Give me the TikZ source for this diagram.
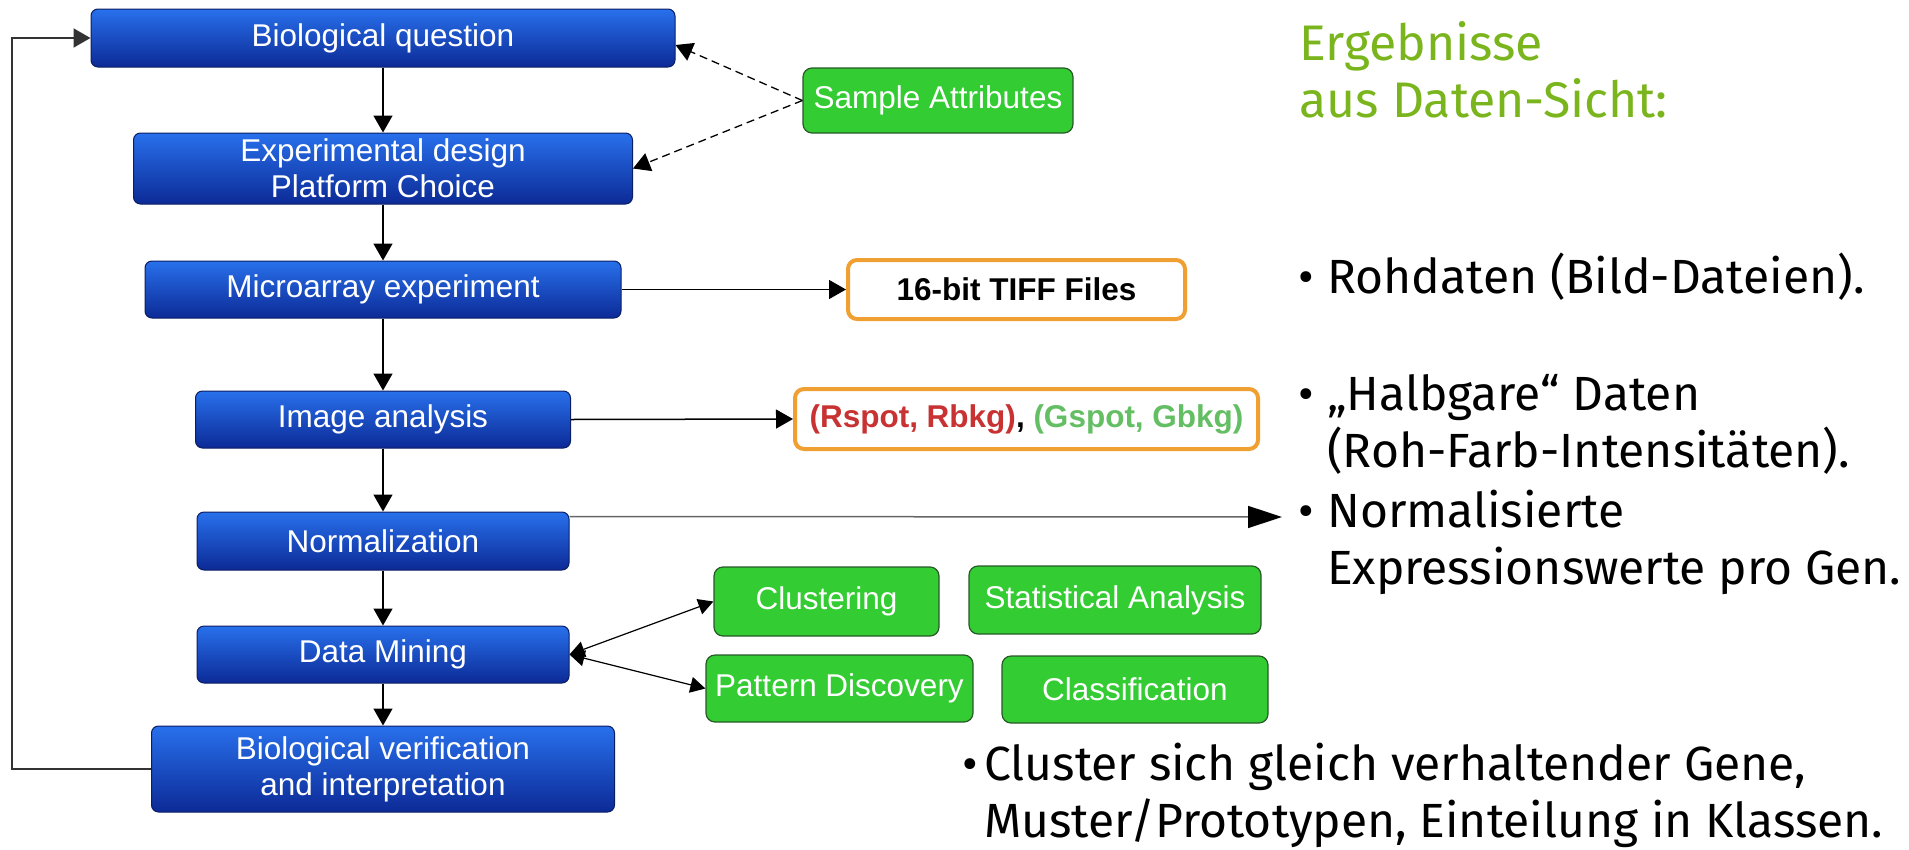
\documentclass[tikz,border=0pt]{standalone}
\usepackage{fontspec}
\setmainfont{Liberation Sans}
\newfontfamily\notesfont{Fira Sans}
\newfontfamily\headfont{Fira Sans}
\usetikzlibrary{arrows.meta}
\definecolor{blueT}{RGB}{40,112,236}
\definecolor{blueB}{RGB}{12,42,150}
\definecolor{blueedge}{RGB}{10,30,100}
\definecolor{attrgreen}{RGB}{51,204,51}
\definecolor{attredge}{RGB}{40,90,40}
\definecolor{tifforange}{RGB}{240,160,50}
\definecolor{spotred}{RGB}{200,50,50}
\definecolor{spotgreen}{RGB}{100,190,100}
\definecolor{headgreen}{RGB}{122,181,29}
\newcommand{\boxfont}{\fontsize{31.5}{36}\selectfont}
\newcommand{\notesize}{\fontsize{48}{57}\selectfont}

\begin{document}
\begin{tikzpicture}[x=1pt, y=-1pt,
  stage/.style={draw=blueedge, line width=1pt, rounded corners=7pt, top color=blueT, bottom color=blueB, text=white, font=\boxfont, align=center, inner sep=0pt},
  attr/.style={draw=attredge, line width=1.2pt, rounded corners=9pt, fill=attrgreen, text=white, font=\boxfont, inner sep=0pt},
  outbox/.style={draw=tifforange, line width=4pt, rounded corners=9pt, fill=white, font=\boxfont\bfseries, inner sep=0pt},
  flow/.style={-{Triangle[length=17pt,width=19pt]}, line width=1.5pt},
  hint/.style={flow, line width=1.3pt, dash pattern=on 8pt off 5pt},
  both/.style={{Triangle[length=15pt,width=16pt]}-{Triangle[length=15pt,width=16pt]}, line width=1.2pt},
  note/.style={anchor=base west, font=\notesfont\notesize, inner sep=0pt}]

  \useasboundingbox (0,0) rectangle (1909,849);

  % pipeline
  \node[stage, minimum width=584pt, minimum height=58pt] (bio) at (383,38) {Biological question};
  \node[stage, minimum width=499pt, minimum height=71pt] (design) at (383,168.5) {Experimental design\\Platform Choice};
  \node[stage, minimum width=476pt, minimum height=57pt] (micro) at (383,289.5) {Microarray experiment};
  \node[stage, minimum width=375pt, minimum height=57pt] (image) at (383,419.5) {Image analysis};
  \node[stage, minimum width=372pt, minimum height=58pt] (norm) at (383,541) {Normalization};
  \node[stage, minimum width=372pt, minimum height=57pt] (mining) at (383,654.5) {Data Mining};
  \node[stage, minimum width=463pt, minimum height=86pt] (verif) at (383,769) {Biological verification\\and interpretation};

  \foreach \a/\b in {bio/design, design/micro, micro/image, image/norm, norm/mining, mining/verif}
    \draw[flow] (\a.south) -- (\b.north);

  % back to the question
  \coordinate (loop) at (12,769);
  \draw[flow, line width=2pt, draw=black!80] (verif.west) -- (loop) |- (bio.west);

  % side boxes
  \node[attr, minimum width=270pt, minimum height=65pt] (attrib) at (938,100.5) {Sample Attributes};
  \draw[hint] (attrib.west) -- ([yshift=-7pt]bio.east);
  \draw[hint] (attrib.west) -- (design.east);

  \node[outbox, minimum width=337pt, minimum height=59pt] (tiff) at (1016.5,289.5) {16-bit TIFF Files};
  \node[outbox, minimum width=463pt, minimum height=60pt] (rgb) at (1026.5,419) {{\color{spotred}(Rspot, Rbkg)}, {\color{spotgreen}(Gspot, Gbkg)}};
  \draw[flow] (micro.east) -- (tiff.west);
  \draw[flow] (image.east) -- (rgb.west);

  \coordinate (normtip) at (1282,517);
  \draw[-{Triangle[length=34pt,width=22pt,color=black]}, line width=1.5pt, draw=black!60] ([yshift=-5pt]norm.north east) -- (normtip);

  \node[attr, minimum width=225pt, minimum height=69pt] (clust) at (826.5,601.5) {Clustering};
  \node[attr, minimum width=292pt, minimum height=68pt] (stat) at (1115,600) {Statistical Analysis};
  \node[attr, minimum width=267pt, minimum height=67pt] (patt) at (839.5,688.5) {Pattern Discovery};
  \node[attr, minimum width=266pt, minimum height=67pt] (classif) at (1135,689.5) {Classification};
  \draw[both] (mining.east) -- (clust.west);
  \draw[both] (mining.east) -- (patt.west);

  % results, data view
  \node[note, font=\headfont\fontsize{50}{57}\selectfont, text=headgreen] (head) at (1299,60)
    {\begin{tabular}[t]{@{}l@{}}Ergebnisse\\aus Daten-Sicht:\end{tabular}};
  \node[note] (dot1) at (1298,293) {\textbullet};
  \node[note] (note1) at (1327,293) {Rohdaten (Bild-Dateien).};
  \node[note] (dot2) at (1298,410) {\textbullet};
  \node[note] (note2) at (1327,410) {\begin{tabular}[t]{@{}l@{}}„Halbgare“ Daten\\(Roh-Farb-Intensitäten).\end{tabular}};
  \node[note] (dot3) at (1298,527) {\textbullet};
  \node[note] (note3) at (1327,527) {\begin{tabular}[t]{@{}l@{}}Normalisierte\\Expressionswerte pro Gen.\end{tabular}};
  \node[note] (dot4) at (962,780) {\textbullet};
  \node[note] (note4) at (984,780) {\begin{tabular}[t]{@{}l@{}}Cluster sich gleich verhaltender Gene,\\Muster/Prototypen, Einteilung in Klassen.\end{tabular}};
\end{tikzpicture}
\end{document}
